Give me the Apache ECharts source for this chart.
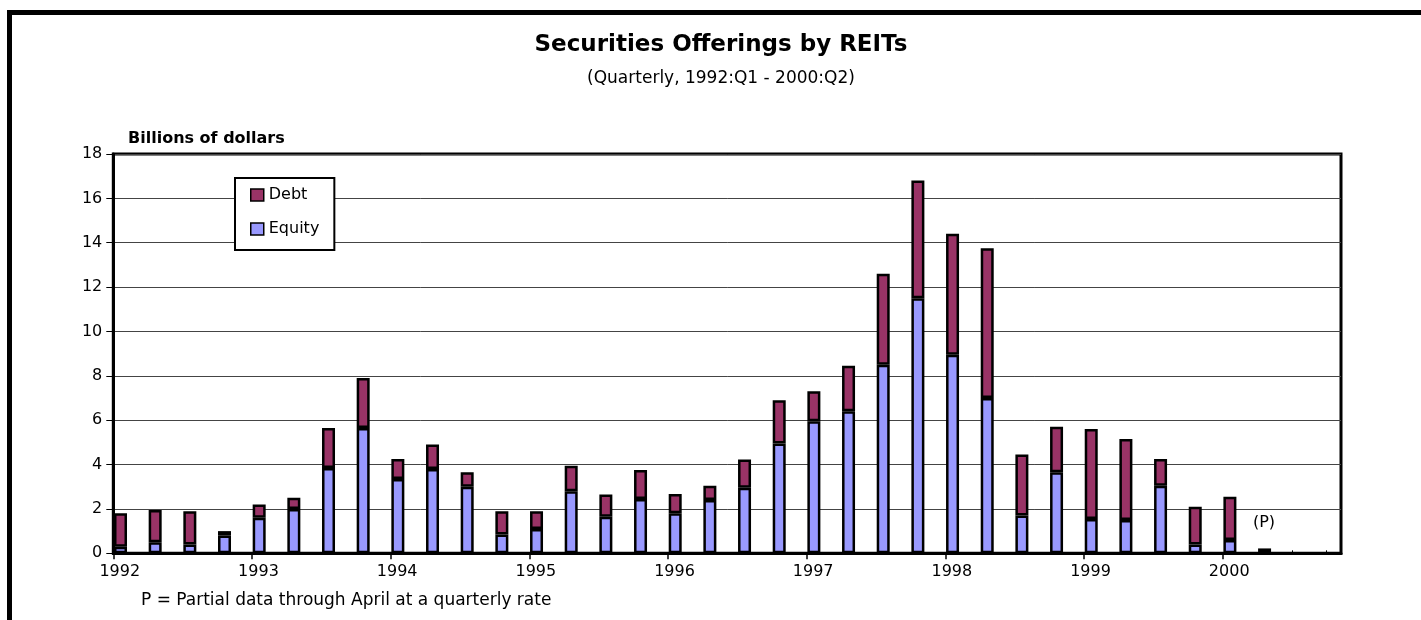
<!DOCTYPE html>
<html>
<head>
<meta charset="utf-8">
<script src="https://cdn.jsdelivr.net/npm/echarts@6/dist/echarts.min.js"></script>
<style>
html,body{margin:0;padding:0;background:#fff;}
#c{width:1421px;height:620px;}
</style>
</head>
<body>
<div id="c"></div>
<script>
// ---- data (billions of dollars, quarterly 1992:Q1 .. 2000:Q4) ----
const yearLabels = ['1992','1993','1994','1995','1996','1997','1998','1999','2000'];
const quarterNames = ['Q1','Q2','Q3','Q4'];
const categories = yearLabels.flatMap(y => quarterNames.map(q => y + ':' + q));
const equity = [
  0.3, 0.5, 0.4, 0.8,
  1.6, 2.0, 3.85, 5.65,
  3.35, 3.8, 3.0, 0.85,
  1.1, 2.8, 1.65, 2.45,
  1.8, 2.4, 2.95, 4.95,
  5.95, 6.4, 8.5, 11.5,
  8.95, 7.0, 1.7, 3.65,
  1.55, 1.5, 3.05, 0.4,
  0.6, 0, null, null
];
const debt = [
  1.5, 1.45, 1.5, 0.2,
  0.6, 0.5, 1.8, 2.25,
  0.9, 1.1, 0.65, 1.05,
  0.8, 1.15, 1.0, 1.3,
  0.87, 0.65, 1.28, 1.95,
  1.35, 2.05, 4.1, 5.3,
  5.45, 6.75, 2.75, 2.05,
  4.05, 3.65, 1.2, 1.7,
  1.95, 0.22, null, null
];
const seriesNames = ['Equity', 'Debt'];
const legendOrder = ['Debt', 'Equity'];

// ---- layout / style ----
const FONT = '"DejaVu Sans"';
const COLORS = {Equity: '#9999FF', Debt: '#993366'};
const plotLeft = 113.3, plotTop = 154, plotRight = 1341, plotBottom = 553.3;
const qw = (1222.7 - plotLeft) / 32;           // px per quarter
const plotQuarters = (plotRight - plotLeft) / qw;
const yearTickValues = yearLabels.map((_, i) => i * 4);

const barStyle = name => ({
  color: COLORS[name],
  borderColor: '#000',
  borderWidth: 2.5
});

const chart = echarts.init(document.getElementById('c'), null, {renderer: 'canvas'});
chart.setOption({
  animation: false,
  backgroundColor: '#fff',
  grid: [
    {left: plotLeft, top: plotTop, width: plotRight - plotLeft, height: plotBottom - plotTop,
     show: true, borderColor: '#000', borderWidth: 3, backgroundColor: 'transparent',
     containLabel: false, outerBoundsMode: 'none'},
    {left: plotLeft + 7.2 - qw / 2, top: plotTop, width: qw * 36, height: plotBottom - plotTop,
     containLabel: false, outerBoundsMode: 'none'}
  ],
  xAxis: [
    {gridIndex: 0, type: 'value', position: 'bottom', min: 0, max: plotQuarters,
     axisLine: {show: true, onZero: false, lineStyle: {color: '#000', width: 3}},
     axisTick: {show: true, customValues: yearTickValues, length: 6, lineStyle: {color: '#000', width: 1.5}},
     axisLabel: {show: true, customValues: yearTickValues, margin: 11, padding: [0, 0, 0, 13],
                 formatter: v => yearLabels[Math.round(v / 4)] || '',
                 color: '#000', fontFamily: FONT, fontSize: 16},
     splitLine: {show: false}},
    {gridIndex: 0, type: 'value', position: 'bottom', min: 0, max: plotQuarters,
     axisLine: {show: false, onZero: false},
     axisTick: {show: true, inside: true, customValues: [34, 35], length: 3, lineStyle: {color: '#000', width: 1}},
     axisLabel: {show: false}, splitLine: {show: false}},
    {gridIndex: 1, type: 'category', data: categories, show: false}
  ],
  yAxis: [
    {gridIndex: 0, type: 'value', min: 0, max: 18, interval: 2,
     axisLine: {show: true, lineStyle: {color: '#000', width: 3}},
     axisTick: {show: true, length: 7, lineStyle: {color: '#000', width: 1}},
     axisLabel: {margin: 11, color: '#000', fontFamily: FONT, fontSize: 16},
     splitLine: {show: true, lineStyle: {color: '#444', width: 1}}},
    {gridIndex: 1, type: 'value', min: 0, max: 18, show: false}
  ],
  legend: {
    data: legendOrder, orient: 'vertical', left: 235, top: 178,
    padding: [9, 15, 13, 15], itemGap: 18, itemWidth: 13, itemHeight: 12, itemTextGap: 5,
    icon: 'rect', backgroundColor: '#fff', borderColor: '#000', borderWidth: 2, borderRadius: 0,
    selectedMode: false,
    itemStyle: {borderColor: '#000', borderWidth: 1.5},
    textStyle: {fontFamily: FONT, fontSize: 16, color: '#000'}
  },
  series: [
    {name: seriesNames[0], type: 'bar', xAxisIndex: 2, yAxisIndex: 1, stack: 'total',
     barWidth: 13, data: equity, itemStyle: barStyle('Equity')},
    {name: seriesNames[1], type: 'bar', xAxisIndex: 2, yAxisIndex: 1, stack: 'total',
     barWidth: 13, data: debt, itemStyle: barStyle('Debt')}
  ],
  graphic: [
    {type: 'polyline', silent: true, z: 100,
     shape: {points: [[9.5, 630], [9.5, 12.5], [1430, 12.5]]},
     style: {stroke: '#000', lineWidth: 5, fill: null}},
    {type: 'text', x: 721, y: 45, silent: true,
     style: {text: 'Securities Offerings by REITs', font: 'bold 23px ' + FONT, fill: '#000', align: 'center', verticalAlign: 'middle'}},
    {type: 'text', x: 721, y: 79, silent: true,
     style: {text: '(Quarterly, 1992:Q1 - 2000:Q2)', font: '17px ' + FONT, fill: '#000', align: 'center', verticalAlign: 'middle'}},
    {type: 'text', x: 128, y: 139, silent: true,
     style: {text: 'Billions of dollars', font: 'bold 16px ' + FONT, fill: '#000', align: 'left', verticalAlign: 'middle'}},
    {type: 'text', x: 1264, y: 523, silent: true,
     style: {text: '(P)', font: '16px ' + FONT, fill: '#000', align: 'center', verticalAlign: 'middle'}},
    {type: 'text', x: 141, y: 601, silent: true,
     style: {text: 'P = Partial data through April at a quarterly rate', font: '17px ' + FONT, fill: '#000', align: 'left', verticalAlign: 'middle'}}
  ]
});
</script>
</body>
</html>
